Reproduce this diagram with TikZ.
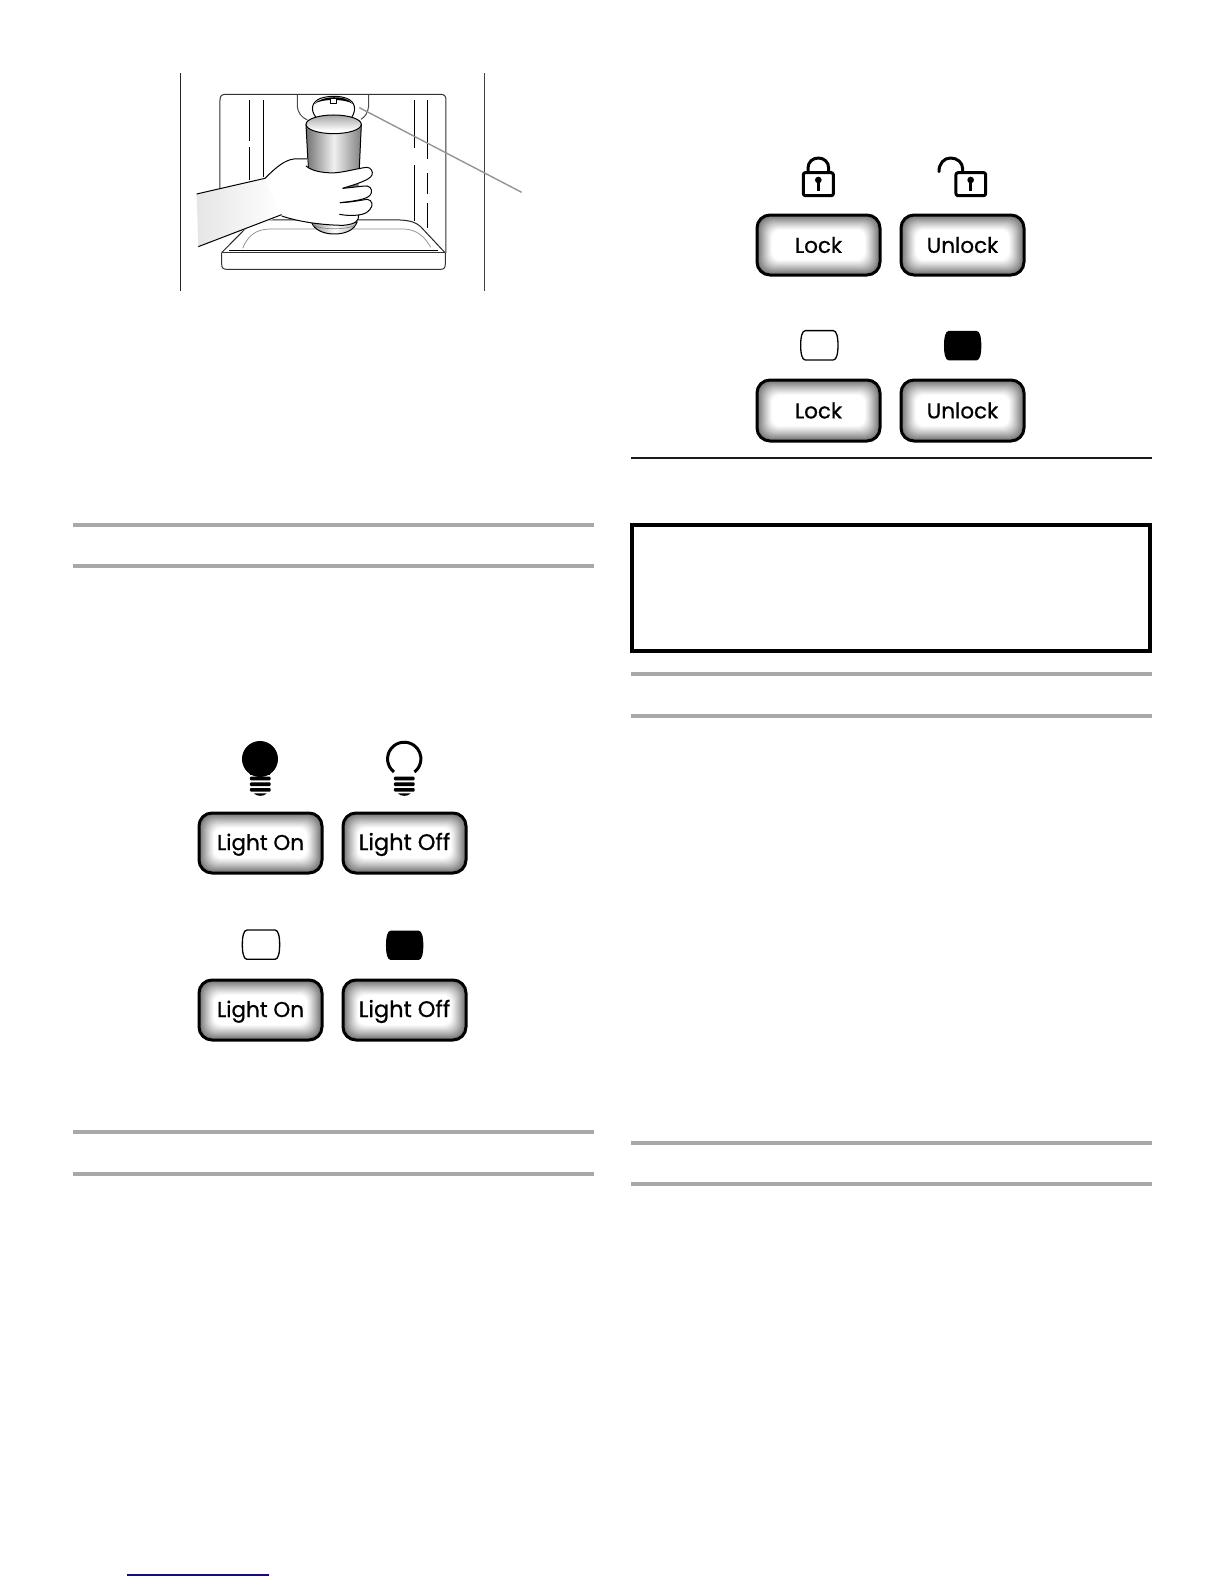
\documentclass[tikz,border=0pt]{standalone}
\usepackage{fontspec}
\setmainfont{Poppins}
\newfontfamily\btnfont[FakeBold=0.7]{Poppins}
\usetikzlibrary{calc}
\definecolor{rulegray}{gray}{0.66}
\definecolor{footblue}{RGB}{20,10,130}
\tikzset{
  grayrule/.style={draw=rulegray,line width=4pt},
  blackrule/.style={draw=black!90,line width=1.2pt},
  btn/.style={draw=black,line width=3pt,rounded corners=13pt,inner sep=0pt,font=\btnfont\fontsize{21.5}{24}\selectfont,text=black},
  zoomed/.style={x=0.3333pt,y=-0.3333pt},
  art/.style={draw=black,line width=1pt,line join=round},
  ico/.style={draw=black,line width=3pt,line join=round,line cap=round},
}
% button: name, x1, y1, x2, y2, label
\newcommand{\btnshade}[4]{%
  \foreach \i in {0,...,15}{%
    \pgfmathsetmacro{\v}{56*(1-\i/15)^1.15}%
    \pgfmathsetmacro{\ins}{\i*1.0}%
    \pgfmathsetmacro{\rad}{max(5,13-\i*0.35)}%
    \fill[black!\v!white,rounded corners=\rad pt] (#1+\ins,#2+\ins) rectangle (#3-\ins,#4-\ins);
  }%
}
\newcommand{\buttonat}[6]{%
  \btnshade{#2}{#3}{#4}{#5}%
  \pgfmathsetmacro{\bw}{#4-#2}\pgfmathsetmacro{\bh}{#5-#3}%
  \node[btn,minimum width=\bw pt,minimum height=\bh pt] (#1) at ({(#2+#4)/2},{(#3+#5)/2}) {#6};
}
\newcommand{\barrelicon}[1]{%
  \path[#1] (14,0) -- (98,0) .. controls (108,0) and (112,20) .. (112,44) .. controls (112,68) and (108,88) .. (98,88) -- (14,88) .. controls (4,88) and (0,68) .. (0,44) .. controls (0,20) and (4,0) .. (14,0) -- cycle;
}
\newcommand{\threads}{%
  \fill[black,rounded corners=1pt] (0,0) rectangle (62,11);
  \fill[black,rounded corners=1pt] (0,17) rectangle (62,28);
  \fill[black,rounded corners=1pt] (0,34) rectangle (62,45);
  \fill[black] (12,50) -- (50,50) .. controls (44,60) and (18,60) .. (12,50) -- cycle;
}
\begin{document}
\begin{tikzpicture}[x=1pt,y=-1pt]
\useasboundingbox (0,0) rectangle (1224,1584);
\fill[white] (0,0) rectangle (1224,1584);

% ---------- rules ----------
\coordinate (ra1) at (73,525);  \coordinate (ra2) at (594,525);
\coordinate (rb1) at (73,566);  \coordinate (rb2) at (594,566);
\coordinate (rc1) at (73,1132); \coordinate (rc2) at (594,1132);
\coordinate (rd1) at (73,1174); \coordinate (rd2) at (594,1174);
\coordinate (re1) at (631,674); \coordinate (re2) at (1152,674);
\coordinate (rf1) at (631,716); \coordinate (rf2) at (1152,716);
\coordinate (rg1) at (631,1143);\coordinate (rg2) at (1152,1143);
\coordinate (rh1) at (631,1184);\coordinate (rh2) at (1152,1184);
\coordinate (ri1) at (631,458); \coordinate (ri2) at (1152,458);
\coordinate (rj1) at (127,1575);\coordinate (rj2) at (269,1575);
\foreach \r in {a,b,c,d,e,f,g,h}{\draw[grayrule] (r\r1) -- (r\r2);}
\draw[blackrule] (ri1) -- (ri2);
\draw[footblue,line width=1.1pt] (rj1) -- (rj2);
\draw[black,line width=4pt] (632,525) rectangle (1150,651);

% ---------- dispenser illustration ----------
\begin{scope}[shift={(170,60)},zoomed]
  \draw[black!85,line width=1.1pt] (31,40) -- (31,692);
  \draw[black!75,line width=1.1pt] (944,40) -- (944,692);
  % panel
  \draw[art,draw=black!80] (150,400) -- (150,120) .. controls (150,108) and (155,103) .. (167,103) -- (812,103) .. controls (823,103) and (828,108) .. (828,120) -- (828,580);
  % guides
  \draw[art] (238,120) -- (238,243) (238,262) -- (238,360);
  \draw[art] (280,120) -- (280,352);
  \draw[art] (733,120) -- (733,265) (733,315) -- (733,482);
  \draw[art] (772,120) -- (772,297) (772,340) -- (772,403) (772,430) -- (772,505);
  % tray
  \draw[art,draw=black!85] (155,578) -- (232,500) .. controls (245,488) and (262,482) .. (290,480) -- (690,480) .. controls (725,482) and (738,488) .. (752,500) -- (825,578);
  \draw[art,draw=black!45,line width=0.7pt] (218,565) .. controls (232,530) and (255,508) .. (300,507) -- (700,507) .. controls (740,508) and (765,530) .. (782,562);
  \draw[art] (178,572) -- (803,572);
  \draw[art,draw=black!80] (155,578) -- (825,578);
  \draw[art,draw=black!80] (155,578) -- (155,612) .. controls (155,624) and (160,628) .. (170,628) -- (812,628) .. controls (822,628) and (826,624) .. (826,612) -- (826,578);
  % nozzle housing
  \draw[art,draw=black!70] (382,105) -- (382,138) .. controls (384,160) and (395,172) .. (412,180);
  \draw[art,draw=black!70] (596,105) -- (596,138) .. controls (594,158) and (586,170) .. (573,178);
  \draw[art] (438,172) .. controls (420,150) and (425,125) .. (452,115) .. controls (475,107) and (510,107) .. (530,115) .. controls (556,125) and (560,150) .. (545,172);
  \fill[black] (434,132) .. controls (450,108) and (530,102) .. (548,132) .. controls (530,116) and (450,116) .. (434,132) -- cycle;
  \draw[art,fill=white] (481,117) rectangle (499,131);
  % leader
  \coordinate (leadA) at (568,143);
  \coordinate (leadB) at (1055,397);
  \draw[draw=black!42,line width=1.4pt] (leadA) -- (leadB);
  % cup bottom
  \shade[left color=black!45,right color=black!30,middle color=white] (424,485) .. controls (432,512) and (465,522) .. (492,522) .. controls (525,522) and (552,512) .. (562,485) -- cycle;
  \draw[art] (424,485) .. controls (432,512) and (465,522) .. (492,522) .. controls (525,522) and (552,512) .. (562,485);
  \draw[art,draw=black!50,line width=0.6pt] (430,495) .. controls (450,510) and (535,510) .. (556,495);
  % cup body
  \shade[left color=black!55,right color=black!50,middle color=black!6] (408,192) -- (415,325) .. controls (440,342) and (540,342) .. (568,325) -- (575,192) -- cycle;
  \fill[white] (491,193) ellipse [x radius=83,y radius=28];
  \shade[top color=black!35,bottom color=white] (409,193) .. controls (409,175) and (450,165) .. (491,165) .. controls (532,165) and (574,175) .. (574,193) .. controls (574,205) and (540,212) .. (491,212) .. controls (445,212) and (409,205) .. (409,193) -- cycle;
  \draw[art] (491,193) ellipse [x radius=83,y radius=28];
  \draw[art] (408,193) -- (415,325);
  \draw[art] (574,193) -- (568,325);
  % cup seen between fingers
  \fill[black!55] (518,385) -- (566,362) -- (566,380) -- cycle;
  \fill[black!45] (510,428) -- (566,416) -- (566,428) -- cycle;
  % hand
  \shade[left color=black!10,right color=white] (80,402) -- (285,355) -- (335,468) -- (85,560) -- cycle;
  \fill[white] (285,355) .. controls (320,320) and (345,300) .. (372,297) -- (412,297) -- (412,322) .. controls (430,338) and (480,340) .. (500,338) .. controls (530,335) and (565,325) .. (590,322) .. controls (603,322) and (610,335) .. (606,345) .. controls (600,360) and (560,372) .. (518,385) .. controls (545,383) and (575,378) .. (592,378) .. controls (606,380) and (608,398) .. (600,406) .. controls (590,418) and (550,424) .. (510,428) .. controls (545,427) and (575,420) .. (592,418) .. controls (608,420) and (610,438) .. (600,448) .. controls (592,458) and (585,462) .. (566,465) .. controls (566,482) and (560,492) .. (520,496) .. controls (480,496) and (400,490) .. (335,468) -- cycle;
  \draw[art] (80,402) -- (285,355) .. controls (320,320) and (345,300) .. (372,297) -- (412,297);
  \draw[art] (408,318) .. controls (430,338) and (480,340) .. (500,338) .. controls (530,335) and (565,325) .. (590,322) .. controls (603,322) and (610,335) .. (606,345) .. controls (600,360) and (560,372) .. (518,385);
  \draw[art] (518,385) .. controls (545,383) and (575,378) .. (592,378) .. controls (606,380) and (608,398) .. (600,406) .. controls (590,418) and (550,424) .. (510,428);
  \draw[art] (510,428) .. controls (545,427) and (575,420) .. (592,418) .. controls (608,420) and (610,438) .. (600,448) .. controls (592,458) and (585,462) .. (566,465) .. controls (545,468) and (525,466) .. (508,463);
  \draw[art] (566,465) .. controls (566,482) and (560,492) .. (520,496) .. controls (480,496) and (400,490) .. (335,468);
  \draw[art] (85,560) -- (335,464);
\end{scope}

% ---------- lock icons ----------
\begin{scope}[shift={(740,140)},zoomed]
  \draw[ico,rounded corners=2pt] (190,98) rectangle (280,167);
  \draw[ico] (204,98) -- (204,84) .. controls (204,66) and (218,54) .. (235,54) .. controls (252,54) and (266,66) .. (266,84) -- (266,98);
  \fill[black] (235,120) circle [radius=10];
  \fill[black] (230,120) rectangle (240,153);
  \draw[ico,rounded corners=2pt] (648,98) rectangle (737,167);
  \draw[ico] (597,95) .. controls (597,70) and (612,54) .. (632,54) .. controls (652,54) and (668,68) .. (668,86) -- (668,98);
  \fill[black] (692,120) circle [radius=10];
  \fill[black] (687,120) rectangle (697,153);
  \begin{scope}[shift={(182,572)}]\barrelicon{draw=black,line width=1.3pt,fill=white}\end{scope}
  \begin{scope}[shift={(612,573)}]\barrelicon{fill=black}\end{scope}
\end{scope}

% ---------- light icons ----------
\begin{scope}[shift={(185,730)},zoomed]
  \fill[black] (225,87) circle [radius=54];
  \fill[black] (195,125) rectangle (255,134);
  \begin{scope}[shift={(195,140)}]\threads\end{scope}
  \draw[draw=black,line width=3pt] (627,126) arc [start angle=128,end angle=412,radius=50];
  \begin{scope}[shift={(627,140)}]\threads\end{scope}
  \begin{scope}[shift={(172,600)}]\barrelicon{draw=black,line width=1.3pt,fill=white}\end{scope}
  \begin{scope}[shift={(603,602)}]\barrelicon{fill=black}\end{scope}
\end{scope}

% ---------- buttons ----------
\buttonat{lockA}{757}{215}{880}{275}{Lock}
\buttonat{unlockA}{901}{215}{1024}{275}{Unlock}
\buttonat{lockB}{757}{380}{880}{441}{Lock}
\buttonat{unlockB}{901}{380}{1024}{441}{Unlock}
\buttonat{lightOnA}{199}{813}{322}{873}{\raisebox{0pt}[14pt][0pt]{Light On}}
\buttonat{lightOffA}{343}{813}{466}{873}{\raisebox{0pt}[14pt][0pt]{\fontsize{22.5}{24}\selectfont Light Off}}
\buttonat{lightOnB}{199}{980}{322}{1040}{\raisebox{0pt}[14pt][0pt]{Light On}}
\buttonat{lightOffB}{343}{980}{466}{1040}{\raisebox{0pt}[14pt][0pt]{\fontsize{22.5}{24}\selectfont Light Off}}
\end{tikzpicture}
\end{document}
